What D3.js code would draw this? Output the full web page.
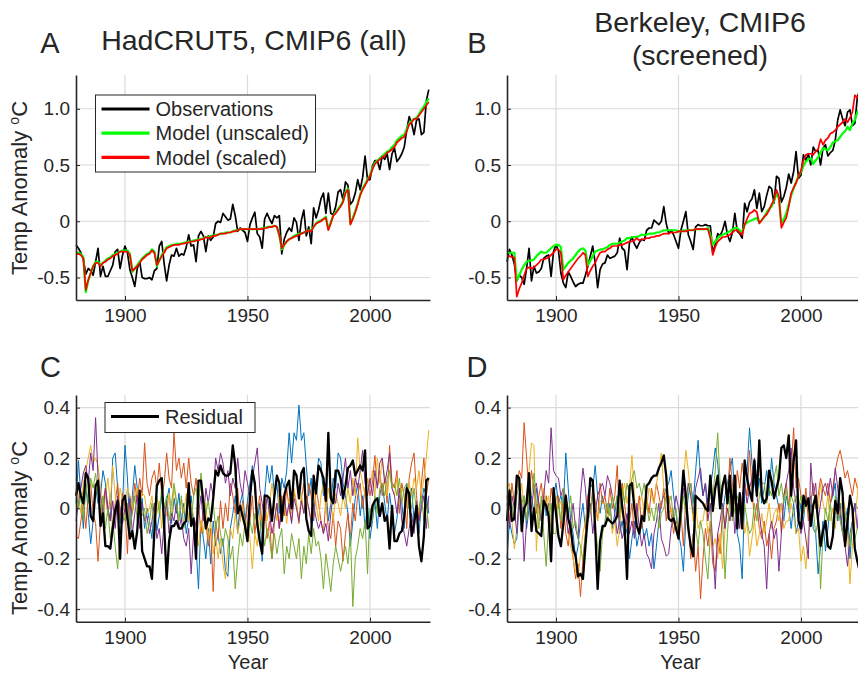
<!DOCTYPE html>
<html>
<head>
<meta charset="utf-8">
<script src="https://cdnjs.cloudflare.com/ajax/libs/d3/7.8.5/d3.min.js"></script>
<style>
  body { margin: 0; background: #fff; }
  svg text { font-family: "Liberation Sans", Arial, sans-serif; fill: #262626; }
</style>
</head>
<body>
<div id="chart"></div>
<script>
// years 1880..2024, one value per year
var years = d3.range(1880, 2025);

// panel A: HadCRUT5 observations and model fits
var obsA = [
  -0.21,-0.24,-0.28,-0.34,-0.47,-0.42,-0.44,-0.48,-0.36,-0.24,
  -0.49,-0.40,-0.49,-0.49,-0.44,-0.39,-0.27,-0.25,-0.42,-0.30,
  -0.22,-0.28,-0.43,-0.50,-0.58,-0.42,-0.36,-0.50,-0.51,-0.51,
  -0.50,-0.52,-0.44,-0.42,-0.22,-0.18,-0.38,-0.53,-0.39,-0.30,
  -0.31,-0.24,-0.31,-0.29,-0.30,-0.23,-0.12,-0.22,-0.21,-0.36,
  -0.13,-0.09,-0.13,-0.27,-0.13,-0.17,-0.14,-0.02,0.00,-0.01,
  0.07,0.04,0.01,0.02,0.15,0.05,-0.09,-0.06,-0.08,-0.10,
  -0.18,-0.03,0.03,0.08,-0.11,-0.14,-0.24,0.02,0.07,0.02,
  -0.02,0.05,0.03,0.05,-0.29,-0.16,-0.10,-0.06,-0.09,0.03,
  -0.01,-0.17,0.01,0.10,-0.13,-0.05,-0.20,0.12,0.03,0.10,
  0.20,0.25,0.07,0.25,0.07,0.06,0.13,0.26,0.28,0.19,
  0.35,0.32,0.15,0.18,0.25,0.37,0.28,0.39,0.58,0.37,
  0.37,0.49,0.54,0.54,0.46,0.58,0.55,0.60,0.46,0.60,
  0.65,0.53,0.56,0.60,0.66,0.81,0.93,0.87,0.77,0.90,
  0.91,0.77,0.79,1.07,1.17
];
var unscaledA = [
  -0.28,-0.28,-0.29,-0.32,-0.63,-0.53,-0.46,-0.40,-0.36,-0.36,
  -0.39,-0.37,-0.35,-0.33,-0.32,-0.30,-0.29,-0.28,-0.27,-0.26,
  -0.26,-0.26,-0.29,-0.45,-0.42,-0.39,-0.36,-0.33,-0.31,-0.29,
  -0.28,-0.25,-0.27,-0.40,-0.35,-0.30,-0.27,-0.23,-0.22,-0.21,
  -0.21,-0.20,-0.20,-0.20,-0.19,-0.19,-0.18,-0.18,-0.17,-0.17,
  -0.16,-0.16,-0.15,-0.14,-0.14,-0.13,-0.13,-0.12,-0.12,-0.11,
  -0.11,-0.10,-0.10,-0.10,-0.09,-0.08,-0.08,-0.07,-0.07,-0.07,
  -0.07,-0.07,-0.07,-0.07,-0.07,-0.07,-0.06,-0.06,-0.05,-0.05,
  -0.05,-0.04,-0.05,-0.13,-0.25,-0.21,-0.18,-0.16,-0.15,-0.13,
  -0.12,-0.11,-0.11,-0.10,-0.09,-0.08,-0.08,-0.05,-0.02,0.00,
  0.01,0.02,0.04,-0.07,-0.01,0.05,0.08,0.11,0.14,0.18,
  0.26,0.29,-0.02,0.03,0.09,0.16,0.24,0.29,0.33,0.37,
  0.41,0.47,0.52,0.54,0.56,0.58,0.60,0.62,0.63,0.66,
  0.68,0.72,0.74,0.76,0.77,0.82,0.87,0.89,0.91,0.92,
  0.95,0.99,1.02,1.06,1.09
];
var scaledA = [
  -0.29,-0.29,-0.30,-0.33,-0.61,-0.52,-0.46,-0.40,-0.37,-0.37,
  -0.40,-0.37,-0.36,-0.34,-0.33,-0.31,-0.30,-0.29,-0.27,-0.27,
  -0.27,-0.27,-0.30,-0.44,-0.42,-0.40,-0.37,-0.34,-0.32,-0.30,
  -0.29,-0.26,-0.28,-0.39,-0.35,-0.31,-0.28,-0.24,-0.23,-0.22,
  -0.21,-0.21,-0.21,-0.20,-0.20,-0.19,-0.19,-0.18,-0.18,-0.17,
  -0.17,-0.16,-0.16,-0.14,-0.15,-0.14,-0.13,-0.13,-0.12,-0.11,
  -0.11,-0.11,-0.10,-0.10,-0.09,-0.09,-0.08,-0.07,-0.07,-0.07,
  -0.07,-0.07,-0.07,-0.07,-0.07,-0.07,-0.07,-0.06,-0.06,-0.05,
  -0.05,-0.04,-0.05,-0.12,-0.24,-0.21,-0.18,-0.16,-0.15,-0.14,
  -0.13,-0.12,-0.11,-0.10,-0.09,-0.08,-0.09,-0.05,-0.02,-0.01,
  0.00,0.02,0.03,-0.08,-0.02,0.05,0.07,0.10,0.13,0.17,
  0.25,0.28,-0.03,0.02,0.08,0.15,0.23,0.28,0.32,0.36,
  0.40,0.46,0.51,0.53,0.55,0.57,0.58,0.61,0.62,0.64,
  0.66,0.70,0.72,0.74,0.75,0.80,0.86,0.88,0.91,0.91,
  0.94,0.97,1.00,1.03,1.06
];

// panel B: Berkeley observations and screened model fits
var obsB = [
  -0.36,-0.25,-0.30,-0.38,-0.53,-0.48,-0.50,-0.56,-0.42,-0.24,
  -0.53,-0.40,-0.46,-0.45,-0.42,-0.33,-0.31,-0.30,-0.49,-0.27,
  -0.21,-0.26,-0.46,-0.55,-0.59,-0.45,-0.49,-0.54,-0.58,-0.56,
  -0.55,-0.55,-0.48,-0.40,-0.31,-0.22,-0.37,-0.59,-0.43,-0.38,
  -0.37,-0.30,-0.33,-0.32,-0.31,-0.28,-0.15,-0.24,-0.26,-0.43,
  -0.19,-0.14,-0.20,-0.24,-0.19,-0.16,-0.17,-0.08,-0.06,-0.06,
  0.01,-0.01,-0.03,0.00,0.13,-0.02,-0.11,-0.08,-0.12,-0.18,
  -0.24,-0.08,0.00,0.085,-0.12,-0.18,-0.25,-0.05,-0.03,-0.04,
  -0.04,-0.03,-0.04,-0.04,-0.28,-0.21,-0.11,-0.13,-0.08,0.00,
  -0.12,-0.18,-0.10,0.07,-0.09,-0.11,-0.15,0.16,0.085,0.17,
  0.20,0.28,0.115,0.25,0.085,0.13,0.23,0.31,0.29,0.16,
  0.40,0.38,0.17,0.22,0.30,0.42,0.34,0.44,0.62,0.38,
  0.41,0.59,0.54,0.60,0.50,0.66,0.62,0.63,0.50,0.65,
  0.68,0.58,0.61,0.63,0.72,0.90,0.99,0.91,0.85,0.97,
  0.99,0.85,0.87,1.10,1.17
];
var unscaledB = [
  -0.28,-0.28,-0.28,-0.28,-0.53,-0.48,-0.43,-0.39,-0.36,-0.35,
  -0.35,-0.34,-0.31,-0.29,-0.27,-0.28,-0.28,-0.26,-0.24,-0.22,
  -0.21,-0.21,-0.23,-0.43,-0.40,-0.37,-0.35,-0.33,-0.30,-0.27,
  -0.25,-0.24,-0.26,-0.39,-0.35,-0.31,-0.27,-0.26,-0.25,-0.25,
  -0.24,-0.23,-0.21,-0.20,-0.20,-0.20,-0.19,-0.18,-0.17,-0.15,
  -0.15,-0.14,-0.14,-0.14,-0.13,-0.12,-0.12,-0.12,-0.11,-0.11,
  -0.11,-0.10,-0.10,-0.09,-0.08,-0.08,-0.08,-0.08,-0.08,-0.08,
  -0.09,-0.09,-0.08,-0.08,-0.08,-0.08,-0.08,-0.07,-0.07,-0.07,
  -0.07,-0.07,-0.06,-0.12,-0.21,-0.18,-0.15,-0.13,-0.12,-0.11,
  -0.10,-0.09,-0.07,-0.06,-0.06,-0.08,-0.10,-0.03,-0.01,0.00,
  0.01,0.02,0.03,-0.01,0.01,0.04,0.08,0.11,0.13,0.18,
  0.25,0.20,-0.02,0.02,0.07,0.15,0.23,0.29,0.35,0.40,
  0.44,0.49,0.53,0.55,0.56,0.51,0.54,0.57,0.61,0.65,
  0.64,0.63,0.66,0.70,0.71,0.72,0.75,0.78,0.80,0.84,
  0.81,0.87,0.90,0.97,1.00
];
var scaledB = [
  -0.31,-0.31,-0.32,-0.32,-0.67,-0.60,-0.55,-0.48,-0.42,-0.41,
  -0.42,-0.41,-0.39,-0.37,-0.34,-0.34,-0.33,-0.32,-0.30,-0.28,
  -0.25,-0.25,-0.28,-0.52,-0.48,-0.45,-0.42,-0.39,-0.36,-0.33,
  -0.31,-0.28,-0.30,-0.49,-0.44,-0.40,-0.37,-0.32,-0.28,-0.27,
  -0.27,-0.25,-0.24,-0.22,-0.22,-0.22,-0.21,-0.21,-0.20,-0.19,
  -0.18,-0.18,-0.17,-0.15,-0.17,-0.16,-0.16,-0.15,-0.15,-0.14,
  -0.14,-0.13,-0.13,-0.12,-0.11,-0.11,-0.11,-0.10,-0.10,-0.10,
  -0.09,-0.09,-0.09,-0.09,-0.08,-0.08,-0.08,-0.07,-0.07,-0.07,
  -0.07,-0.07,-0.07,-0.15,-0.30,-0.23,-0.18,-0.16,-0.14,-0.14,
  -0.13,-0.12,-0.10,-0.08,-0.08,-0.10,-0.12,-0.03,0.02,0.07,
  0.08,0.10,0.08,-0.02,0.01,0.04,0.06,0.10,0.15,0.19,
  0.28,0.22,-0.06,-0.01,0.03,0.13,0.25,0.30,0.34,0.40,
  0.45,0.54,0.59,0.60,0.60,0.59,0.62,0.64,0.73,0.68,
  0.72,0.74,0.78,0.79,0.81,0.84,0.86,0.88,0.91,0.88,
  0.92,0.97,1.12,1.10,1.12
];

// panel C: residual (HadCRUT5 minus fit) and five model residuals
var residualC = [
  0.05,0.10,0.05,0.02,0.14,0.12,-0.03,-0.05,0.09,0.11,
  -0.07,-0.02,-0.15,-0.15,-0.16,-0.08,-0.01,0.03,-0.20,0.03,
  0.05,-0.04,-0.12,-0.09,-0.16,-0.09,0.07,-0.17,-0.20,-0.23,
  -0.23,-0.28,-0.09,0.09,0.11,0.12,-0.07,-0.28,-0.13,-0.07,
  -0.07,-0.05,-0.08,-0.08,-0.06,-0.05,0.10,-0.07,-0.04,-0.20,
  0.11,0.11,0.02,-0.08,-0.04,-0.05,0.04,0.15,0.13,0.17,
  0.14,0.13,0.13,0.14,0.25,0.17,-0.02,0.01,-0.03,-0.07,
  -0.13,0.04,0.15,0.10,-0.06,-0.13,-0.18,0.05,0.05,0.04,
  -0.05,0.05,0.13,0.10,-0.05,0.05,0.09,0.11,0.00,0.15,
  0.13,0.04,0.14,0.16,-0.04,-0.09,-0.11,0.13,0.06,0.17,
  0.15,0.12,0.03,0.30,0.04,0.02,0.15,0.15,0.12,0.04,
  0.09,0.16,0.17,0.19,0.13,0.15,0.17,0.15,0.23,-0.08,
  -0.07,0.01,0.03,0.04,-0.03,0.02,-0.05,-0.03,-0.16,0.01,
  -0.13,-0.13,-0.10,-0.09,-0.03,0.08,0.06,-0.11,-0.06,0.01,
  -0.15,-0.21,-0.11,0.11,0.12
];
var blueC = [
  0.02,0.19,0.05,-0.08,0.10,-0.02,-0.14,-0.05,0.08,0.02,
  0.05,0.15,0.10,0.00,-0.05,0.20,0.22,0.08,-0.06,0.02,
  0.25,0.12,-0.10,0.05,0.17,0.08,-0.02,0.04,-0.08,0.00,
  -0.05,-0.12,0.02,-0.09,-0.03,0.05,-0.10,0.03,0.08,-0.06,
  0.04,-0.02,0.06,-0.05,0.02,-0.10,-0.04,0.05,-0.08,-0.15,
  -0.32,-0.05,-0.12,-0.20,-0.08,-0.22,-0.05,-0.15,-0.10,-0.18,
  -0.12,-0.25,-0.27,-0.08,-0.02,0.05,-0.10,0.02,0.06,-0.05,
  0.03,0.10,0.17,0.08,-0.05,0.02,-0.21,0.05,0.17,0.10,
  0.17,0.05,0.10,-0.02,0.12,0.08,0.15,0.30,0.18,0.30,
  0.27,0.41,0.27,0.30,0.17,0.05,0.12,-0.05,0.08,0.20,
  0.18,0.05,0.10,-0.05,0.02,0.12,0.08,0.22,0.20,0.10,
  0.05,-0.02,-0.15,-0.05,0.04,0.10,-0.03,0.05,-0.08,0.02,
  -0.12,-0.05,0.03,-0.08,0.05,0.10,0.02,-0.05,0.06,-0.02,
  -0.10,-0.04,0.05,0.02,-0.08,0.10,0.00,0.08,-0.05,0.03,
  -0.10,0.02,0.08,0.05,-0.02
];
var orangeC = [
  -0.11,-0.12,-0.05,0.02,-0.08,0.05,0.10,-0.02,-0.06,-0.21,
  -0.05,0.02,0.08,-0.03,0.05,-0.08,0.02,0.10,-0.04,0.06,
  0.00,-0.18,0.05,-0.02,0.10,0.03,0.12,0.05,0.26,0.10,
  0.05,0.12,0.15,0.08,0.18,0.05,0.10,0.22,0.12,0.08,
  0.30,0.15,0.20,0.12,0.18,0.08,0.20,0.10,0.05,0.12,
  0.02,-0.10,0.00,-0.05,-0.15,-0.08,-0.33,-0.05,-0.12,0.03,
  -0.08,0.02,-0.05,0.10,0.05,-0.02,0.08,-0.05,0.03,-0.08,
  0.02,-0.05,0.05,-0.10,-0.02,0.05,-0.08,0.02,-0.12,-0.05,
  -0.20,-0.05,0.02,-0.08,0.05,-0.03,0.08,0.00,-0.05,0.06,
  0.02,-0.06,0.04,0.10,-0.02,0.10,0.05,-0.04,0.08,0.02,
  -0.05,-0.10,0.03,-0.08,-0.12,-0.02,-0.15,-0.05,-0.08,-0.21,
  -0.10,-0.02,-0.12,0.02,-0.05,0.05,0.10,0.00,0.08,0.12,
  0.05,0.10,0.21,0.08,0.15,0.05,0.12,0.02,0.25,0.10,
  0.08,0.15,-0.02,0.10,0.05,-0.08,0.12,0.18,0.22,0.05,
  -0.05,0.10,0.20,0.05,0.12
];
var yellowC = [
  0.12,0.05,-0.02,0.10,0.15,0.20,0.25,0.18,0.20,0.17,
  0.08,-0.05,0.05,0.12,0.02,0.17,0.05,-0.02,0.08,0.03,
  0.02,0.08,0.05,0.00,0.04,0.08,0.02,0.06,0.05,-0.02,
  0.00,0.05,-0.05,-0.02,0.03,-0.08,0.02,-0.03,0.06,-0.04,
  0.08,0.02,-0.05,0.04,-0.02,0.06,-0.05,0.02,-0.03,-0.08,
  -0.15,-0.05,-0.10,0.02,-0.12,-0.05,-0.18,-0.10,-0.20,-0.12,
  -0.22,-0.28,-0.15,-0.08,-0.12,-0.02,-0.10,-0.05,0.02,-0.08,
  -0.05,-0.12,-0.24,-0.10,-0.15,-0.02,-0.08,0.05,-0.05,0.02,
  0.10,0.02,-0.05,0.08,-0.02,0.05,-0.06,0.04,-0.02,0.08,
  0.02,-0.05,0.06,-0.02,0.05,0.00,-0.04,0.08,0.02,-0.05,
  0.05,0.10,-0.02,0.08,0.03,-0.05,0.06,0.02,-0.03,0.05,
  0.00,0.08,0.02,0.12,0.05,0.28,0.15,0.10,0.05,0.12,
  0.08,0.15,0.05,0.20,0.10,0.20,0.12,0.05,0.15,0.08,
  0.05,0.12,0.02,0.08,0.05,0.00,0.10,0.05,0.12,0.08,
  0.15,0.05,0.12,0.20,0.31
];
var purpleC = [
  -0.05,0.02,0.08,0.14,0.17,0.10,0.22,0.15,0.36,0.12,
  0.05,-0.02,0.08,0.00,-0.05,0.03,-0.08,0.05,0.00,-0.06,
  0.00,-0.05,0.04,-0.10,-0.02,0.05,-0.08,0.02,-0.05,-0.03,
  -0.10,-0.05,0.02,-0.12,-0.08,-0.18,-0.05,0.03,-0.10,-0.02,
  -0.05,0.02,-0.08,-0.04,-0.12,-0.15,-0.08,-0.26,-0.10,-0.05,
  -0.02,0.05,-0.05,0.08,0.02,0.10,0.05,0.20,0.15,0.22,
  0.18,0.10,0.15,0.05,0.12,0.08,0.20,0.10,0.05,0.15,
  0.10,0.05,0.12,0.18,0.24,0.08,0.02,-0.05,0.05,-0.02,
  -0.10,-0.05,0.02,-0.08,0.00,0.05,-0.03,0.02,-0.06,0.04,
  0.00,-0.05,0.03,-0.02,0.05,0.00,-0.06,0.02,-0.04,-0.08,
  -0.05,-0.10,-0.06,-0.13,-0.02,0.05,0.02,0.10,0.05,0.12,
  0.20,0.08,0.15,0.05,0.12,0.08,0.15,0.23,0.10,0.05,
  0.12,0.05,0.15,0.08,0.18,0.20,0.10,0.15,0.22,0.08,
  0.05,-0.02,0.08,-0.05,-0.10,-0.15,-0.08,-0.02,-0.10,0.02,
  -0.05,0.00,0.05,-0.08,0.05
];
var greenC = [
  0.08,0.00,0.05,-0.05,0.10,0.02,0.12,0.08,0.14,0.05,
  -0.02,0.05,-0.08,0.00,-0.12,-0.05,-0.15,-0.24,-0.10,-0.02,
  -0.05,0.02,-0.08,-0.02,0.05,-0.05,0.02,-0.03,0.00,-0.10,
  -0.05,0.02,-0.08,0.05,-0.02,0.08,0.00,0.05,-0.05,0.02,
  0.10,0.03,-0.05,0.05,-0.08,-0.02,0.02,-0.05,0.05,0.08,
  0.00,0.14,0.05,-0.02,0.03,-0.05,0.02,-0.08,-0.03,-0.10,
  -0.15,-0.08,-0.12,-0.20,-0.15,-0.32,-0.20,-0.10,-0.15,-0.05,
  -0.12,-0.05,-0.10,-0.02,-0.08,-0.10,-0.05,-0.15,-0.08,-0.12,
  -0.20,-0.10,-0.18,-0.12,-0.08,-0.26,-0.15,-0.20,-0.10,-0.15,
  -0.20,-0.12,-0.28,-0.15,-0.22,-0.10,-0.18,-0.08,-0.15,-0.13,
  -0.20,-0.32,-0.18,-0.25,-0.33,-0.22,-0.15,-0.20,-0.25,-0.20,
  -0.15,-0.22,-0.10,-0.39,-0.20,-0.15,-0.08,-0.12,-0.05,-0.26,
  0.00,-0.05,0.05,-0.02,0.08,0.10,0.05,0.12,0.15,0.08,
  0.10,0.05,0.12,0.02,0.08,0.10,0.05,0.00,0.08,-0.02,
  0.00,0.05,-0.05,0.02,-0.08
];

// panel D: residual (Berkeley minus fit) and five model residuals
var residualD = [
  -0.05,0.07,-0.05,-0.04,0.13,0.12,-0.09,0.00,0.02,0.14,
  -0.09,0.00,-0.09,-0.10,-0.11,0.03,0.01,-0.03,-0.21,0.08,
  -0.02,-0.11,-0.15,-0.06,0.05,-0.04,-0.08,-0.16,-0.19,-0.27,
  -0.26,-0.28,-0.15,-0.03,0.12,0.11,-0.08,-0.32,-0.13,-0.07,
  -0.07,-0.04,-0.05,-0.06,-0.05,-0.03,0.11,0.01,-0.07,-0.28,
  0.09,0.10,0.00,-0.07,-0.10,-0.03,-0.05,0.09,0.10,0.12,
  0.13,0.13,0.16,0.18,0.21,0.13,-0.04,-0.05,-0.04,-0.08,
  -0.12,0.01,0.15,0.05,-0.08,-0.15,-0.19,0.05,0.04,0.03,
  0.02,0.00,-0.01,0.13,-0.01,0.08,0.13,0.00,0.09,0.13,
  0.02,0.13,-0.03,0.13,-0.08,0.06,-0.08,0.19,0.12,0.07,
  0.03,0.19,0.05,0.27,0.05,0.02,0.04,0.15,0.11,0.04,
  0.08,0.12,0.24,0.25,0.20,0.29,0.05,0.19,0.27,-0.05,
  -0.08,0.05,0.01,0.04,-0.07,0.01,0.05,-0.05,-0.15,-0.09,
  -0.05,-0.15,-0.16,-0.11,0.03,-0.02,0.12,0.06,-0.15,-0.05,
  0.05,0.00,-0.16,-0.21,-0.25
];
var blueD = [
  -0.20,-0.05,-0.10,-0.14,-0.12,0.02,-0.05,0.05,-0.08,0.00,
  0.05,-0.02,0.08,0.00,-0.05,0.05,-0.03,0.02,-0.08,0.05,
  0.10,0.02,0.05,0.00,0.22,0.08,-0.05,-0.10,-0.20,-0.15,
  -0.05,0.02,-0.08,0.05,0.10,0.08,0.17,0.05,-0.02,0.05,
  0.00,-0.05,0.02,-0.08,-0.02,0.05,-0.10,-0.05,-0.12,-0.08,
  -0.20,-0.12,-0.05,-0.15,-0.10,-0.05,-0.12,-0.08,-0.15,-0.10,
  -0.24,-0.15,-0.05,0.02,0.05,0.08,0.10,0.15,0.05,-0.02,
  -0.10,-0.15,-0.25,-0.05,0.05,0.10,0.02,0.15,0.27,0.12,
  0.05,0.10,0.02,0.08,0.15,0.24,0.18,0.05,-0.02,0.05,
  0.10,0.15,0.20,0.05,-0.10,-0.15,-0.28,0.05,0.15,0.32,
  0.18,0.10,0.05,0.12,0.02,0.08,0.15,0.05,0.20,0.10,
  0.05,0.00,0.02,-0.05,0.05,0.00,-0.08,0.02,-0.10,-0.05,
  0.02,-0.05,0.05,0.00,0.05,-0.08,-0.10,-0.26,-0.15,-0.05,
  -0.17,-0.08,0.02,0.05,0.10,-0.05,0.02,-0.10,-0.05,0.00,
  -0.20,-0.05,0.02,0.00,0.00
];
var orangeD = [
  0.05,-0.05,0.10,0.02,0.08,0.15,0.12,0.34,0.20,0.05,
  0.15,0.08,-0.02,0.05,0.10,0.00,0.05,-0.05,0.08,0.02,
  -0.02,0.05,-0.08,0.02,-0.10,-0.15,-0.05,-0.20,-0.28,-0.22,
  -0.35,-0.20,-0.10,0.05,-0.02,0.08,0.03,-0.05,0.10,0.02,
  0.05,-0.02,0.08,0.00,0.05,0.17,-0.05,0.10,0.02,-0.08,
  -0.05,0.02,-0.10,-0.03,0.05,-0.08,0.02,0.05,-0.02,0.08,
  0.02,0.10,0.05,0.00,0.08,-0.05,0.05,-0.02,-0.10,-0.05,
  -0.08,-0.02,-0.15,0.05,-0.05,-0.20,-0.10,-0.25,-0.15,-0.36,
  -0.20,-0.08,-0.15,-0.05,-0.22,-0.25,-0.10,-0.18,0.00,-0.08,
  0.05,0.20,0.10,0.02,0.15,0.08,0.18,0.10,0.05,0.23,
  0.08,-0.05,0.02,-0.08,-0.12,-0.05,-0.15,-0.10,-0.20,-0.08,
  -0.05,0.02,-0.10,0.05,0.10,0.00,0.15,0.32,0.08,0.12,
  0.05,-0.02,0.08,-0.05,0.02,0.10,0.00,0.05,0.12,0.08,
  0.05,0.10,0.02,0.08,0.15,0.20,0.23,0.18,0.12,0.15,
  0.10,0.05,0.12,0.08,0.10
];
var yellowD = [
  0.08,0.10,-0.05,-0.16,-0.08,0.02,0.10,-0.02,0.05,0.15,
  0.26,0.25,-0.17,0.02,-0.05,0.08,0.02,0.05,-0.08,0.02,
  0.05,0.00,0.03,-0.05,0.02,-0.10,-0.15,-0.20,-0.25,-0.28,
  -0.18,-0.10,-0.05,0.02,-0.02,0.05,0.00,-0.05,0.03,0.02,
  0.02,-0.05,0.00,-0.10,-0.05,-0.15,-0.08,0.05,0.10,0.02,
  0.08,0.21,0.05,-0.05,0.02,0.05,-0.02,0.00,0.08,0.05,
  0.02,0.10,0.15,0.22,0.08,0.05,-0.02,0.00,-0.05,-0.08,
  -0.10,-0.02,0.10,0.23,0.15,0.05,-0.05,0.02,-0.08,-0.05,
  -0.05,0.02,-0.10,-0.05,-0.15,-0.12,-0.20,-0.10,-0.24,-0.08,
  0.00,-0.05,0.08,0.02,-0.05,0.05,-0.02,-0.10,-0.05,-0.19,
  -0.12,-0.05,-0.15,-0.10,-0.02,-0.10,-0.05,0.02,-0.08,-0.02,
  0.00,-0.05,0.02,-0.08,-0.05,-0.05,0.02,-0.03,-0.10,-0.08,
  -0.21,-0.15,-0.24,-0.10,-0.05,0.02,0.05,0.00,0.10,0.02,
  -0.02,0.05,-0.05,0.00,-0.08,0.02,-0.05,0.05,0.00,-0.10,
  -0.30,-0.15,-0.05,0.05,0.20
];
var purpleD = [
  0.02,-0.08,0.05,0.00,-0.10,0.06,0.02,-0.21,-0.05,0.05,
  0.00,0.08,0.10,0.02,-0.05,0.05,0.15,0.10,0.32,0.15,
  0.13,0.12,0.05,0.08,-0.02,-0.10,-0.05,0.02,-0.08,-0.12,
  0.05,0.16,0.08,-0.05,0.02,-0.10,-0.02,0.05,0.08,0.10,
  0.05,0.13,0.10,0.05,-0.02,-0.10,-0.05,-0.12,-0.08,-0.02,
  -0.10,-0.05,-0.12,0.02,-0.08,-0.15,-0.10,-0.18,-0.20,-0.24,
  -0.10,-0.05,0.02,-0.12,-0.15,-0.19,-0.18,-0.08,-0.02,0.05,
  0.00,-0.05,0.08,0.02,0.10,0.05,-0.02,0.08,0.12,0.16,
  0.05,0.10,-0.05,0.02,-0.15,-0.32,-0.10,-0.05,0.02,-0.08,
  0.00,-0.05,0.05,-0.10,0.02,-0.08,0.05,0.10,0.02,0.08,
  0.12,0.20,0.05,-0.02,-0.10,-0.15,-0.32,-0.10,-0.05,-0.12,
  -0.08,-0.25,-0.10,0.05,0.10,0.15,0.24,0.08,0.02,-0.05,
  -0.10,-0.05,-0.12,-0.20,0.18,0.05,0.10,-0.05,0.02,0.08,
  0.10,0.05,0.12,0.05,0.16,0.08,-0.02,-0.10,-0.15,-0.23,
  -0.10,-0.05,0.02,-0.08,0.05
];
var greenD = [
  -0.05,0.08,0.02,-0.05,0.05,0.10,0.02,0.05,-0.05,0.08,
  0.05,0.14,0.02,-0.08,0.05,-0.10,-0.23,-0.05,0.02,-0.10,
  -0.10,0.02,-0.05,0.08,0.05,-0.02,0.05,-0.08,-0.05,-0.12,
  -0.15,-0.21,-0.10,-0.05,-0.02,0.05,-0.08,-0.15,-0.25,-0.10,
  -0.05,0.02,-0.03,0.05,0.00,0.05,-0.02,0.08,0.02,0.10,
  0.05,0.12,0.15,0.08,0.10,0.05,0.10,0.02,-0.05,0.00,
  -0.05,0.02,-0.08,-0.02,0.00,0.05,0.02,0.05,-0.05,0.00,
  -0.10,-0.05,0.05,-0.02,0.08,0.10,0.00,-0.08,-0.15,-0.05,
  -0.10,-0.20,-0.28,-0.10,0.05,0.15,0.30,0.10,-0.05,-0.28,
  -0.10,0.05,-0.05,0.00,0.05,0.00,-0.08,0.02,-0.05,-0.10,
  -0.08,0.02,-0.05,0.05,0.10,0.10,0.02,0.08,0.05,0.12,
  0.17,0.05,0.10,0.02,0.08,0.00,0.05,0.02,0.05,0.00,
  0.05,-0.02,0.03,0.00,-0.05,0.00,-0.10,-0.05,-0.32,-0.10,
  0.00,-0.05,0.02,-0.08,0.05,0.00,-0.05,-0.10,-0.02,-0.08,
  -0.15,-0.05,-0.12,-0.08,-0.10
];

var topTicks = [-0.5, 0, 0.5, 1.0];
var bottomTicks = [-0.4, -0.2, 0, 0.2, 0.4];
var yearTicks = [1900, 1950, 2000];
var matlabColours = ["#0072BD", "#D95319", "#EDB120", "#7E2F8E", "#77AC30"];

function tickText(d) {
    if (d === 0) return "0";
    return d.toFixed(1);
}

function drawPanel(svg, p) {
    var x = d3.scaleLinear().domain([1880, 2024.5]).range([p.left, p.left + 354]);
    var y = d3.scaleLinear().domain(p.yDomain).range([p.bottom, p.top]);
    var g = svg.append("g");

    // grid
    g.selectAll(".vgrid").data(yearTicks).enter().append("line")
      .attr("x1", function (d) { return x(d); }).attr("x2", function (d) { return x(d); })
      .attr("y1", p.top).attr("y2", p.bottom)
      .attr("stroke", "#dadada").attr("stroke-width", 1.2);
    g.selectAll(".hgrid").data(p.ticks).enter().append("line")
      .attr("x1", p.left).attr("x2", p.left + 354)
      .attr("y1", function (d) { return y(d); }).attr("y2", function (d) { return y(d); })
      .attr("stroke", "#dadada").attr("stroke-width", 1.2);

    // series
    p.series.forEach(function (s) {
      var line = d3.line()
        .x(function (d, i) { return x(years[i]); })
        .y(function (d) { return y(d); });
      g.append("path")
        .datum(s.values)
        .attr("d", line)
        .attr("fill", "none")
        .attr("stroke", s.colour)
        .attr("stroke-width", s.width)
        .attr("stroke-linejoin", "round");
    });

    // axes
    var xAxis = d3.axisBottom(x).tickValues(yearTicks).tickFormat(d3.format("d"))
      .tickSizeInner(-4).tickSizeOuter(0).tickPadding(9);
    var yAxis = d3.axisLeft(y).tickValues(p.ticks).tickFormat(tickText)
      .tickSizeInner(-4).tickSizeOuter(0).tickPadding(6);
    var xa = g.append("g").attr("transform", "translate(0," + p.bottom + ")").call(xAxis);
    var ya = g.append("g").attr("transform", "translate(" + p.left + ",0)").call(yAxis);
    [xa, ya].forEach(function (a) {
      a.select(".domain").attr("stroke", "#262626").attr("stroke-width", 1.6);
      a.selectAll(".tick line").attr("stroke", "#262626");
      a.selectAll(".tick text").attr("font-size", 19).attr("fill", "#262626")
        .style("font-family", "'Liberation Sans', Arial, sans-serif");
    });
    xa.selectAll(".tick text").attr("dy", "0.71em");

    // panel letter
    svg.append("text")
      .attr("x", p.letterX).attr("y", p.letterY)
      .attr("text-anchor", "middle")
      .attr("font-size", 29)
      .text(p.letter);

    // title
    if (p.title) {
      p.title.forEach(function (t, i) {
        svg.append("text")
          .attr("x", p.titleX).attr("y", p.titleY + i * 33)
          .attr("text-anchor", "middle")
          .attr("font-size", 28.5)
          .text(t);
      });
    }

    // y label
    if (p.yLabelY) {
      var lab = svg.append("text")
        .attr("transform", "translate(27," + p.yLabelY + ") rotate(-90)")
        .attr("text-anchor", "middle")
        .attr("font-size", 22);
      lab.append("tspan").text("Temp Anomaly ");
      lab.append("tspan").attr("font-size", 14).attr("dy", -8).text("o");
      lab.append("tspan").attr("dy", 8).text("C");
    }

    // x label
    if (p.xLabel) {
      svg.append("text")
        .attr("x", p.xLabelX).attr("y", 669)
        .attr("text-anchor", "middle")
        .attr("font-size", 20)
        .text("Year");
    }

    // legend
    if (p.legend) {
      var L = p.legend;
      svg.append("rect")
        .attr("x", L.x).attr("y", L.y).attr("width", L.w).attr("height", L.h)
        .attr("fill", "#fff").attr("stroke", "#262626").attr("stroke-width", 1);
      L.items.forEach(function (it, i) {
        var cy = L.y + 14 + i * 24.2;
        svg.append("line")
          .attr("x1", L.x + 6).attr("x2", L.x + 54)
          .attr("y1", cy).attr("y2", cy)
          .attr("stroke", it.colour).attr("stroke-width", 3.2);
        svg.append("text")
          .attr("x", L.x + 60).attr("y", cy)
          .attr("dy", "0.36em")
          .attr("font-size", 20)
          .text(it.label);
      });
    }
}

var svg = d3.select("#chart").append("svg")
    .attr("width", 858).attr("height", 675);

function residualSeries(list, black) {
    var s = list.map(function (v, i) { return {values: v, colour: matlabColours[i], width: 1}; });
    s.push({values: black, colour: "#000000", width: 2.3});
    return s;
}

drawPanel(svg, {
    left: 76, top: 75, bottom: 300, yDomain: [-0.7, 1.3], ticks: topTicks,
    series: [
      {values: obsA, colour: "#000000", width: 1.7},
      {values: unscaledA, colour: "#00FF00", width: 2.2},
      {values: scaledA, colour: "#FF0000", width: 1.7}
    ],
    letter: "A", letterX: 50, letterY: 53,
    title: ["HadCRUT5, CMIP6 (all)"], titleX: 254, titleY: 50,
    yLabelY: 188,
    legend: {x: 95.5, y: 95, w: 220, h: 77, items: [
      {label: "Observations", colour: "#000000"},
      {label: "Model (unscaled)", colour: "#00FF00"},
      {label: "Model (scaled)", colour: "#FF0000"}
    ]}
});

drawPanel(svg, {
    left: 507, top: 75, bottom: 300, yDomain: [-0.7, 1.3], ticks: topTicks,
    series: [
      {values: obsB, colour: "#000000", width: 1.7},
      {values: unscaledB, colour: "#00FF00", width: 2.2},
      {values: scaledB, colour: "#FF0000", width: 1.7}
    ],
    letter: "B", letterX: 477, letterY: 53,
    title: ["Berkeley, CMIP6", "(screened)"], titleX: 700, titleY: 32
});

drawPanel(svg, {
    left: 76, top: 395, bottom: 621.7, yDomain: [-0.45, 0.45], ticks: bottomTicks,
    series: residualSeries([blueC, orangeC, yellowC, purpleC, greenC], residualC),
    letter: "C", letterX: 50.5, letterY: 376.7,
    yLabelY: 528,
    xLabel: true, xLabelX: 248,
    legend: {x: 105, y: 402.5, w: 150, h: 30, items: [
      {label: "Residual", colour: "#000000"}
    ]}
});

drawPanel(svg, {
    left: 507, top: 395, bottom: 621.7, yDomain: [-0.45, 0.45], ticks: bottomTicks,
    series: residualSeries([blueD, orangeD, yellowD, purpleD, greenD], residualD),
    letter: "D", letterX: 477, letterY: 377,
    xLabel: true, xLabelX: 680.5
});
</script>
</body>
</html>
